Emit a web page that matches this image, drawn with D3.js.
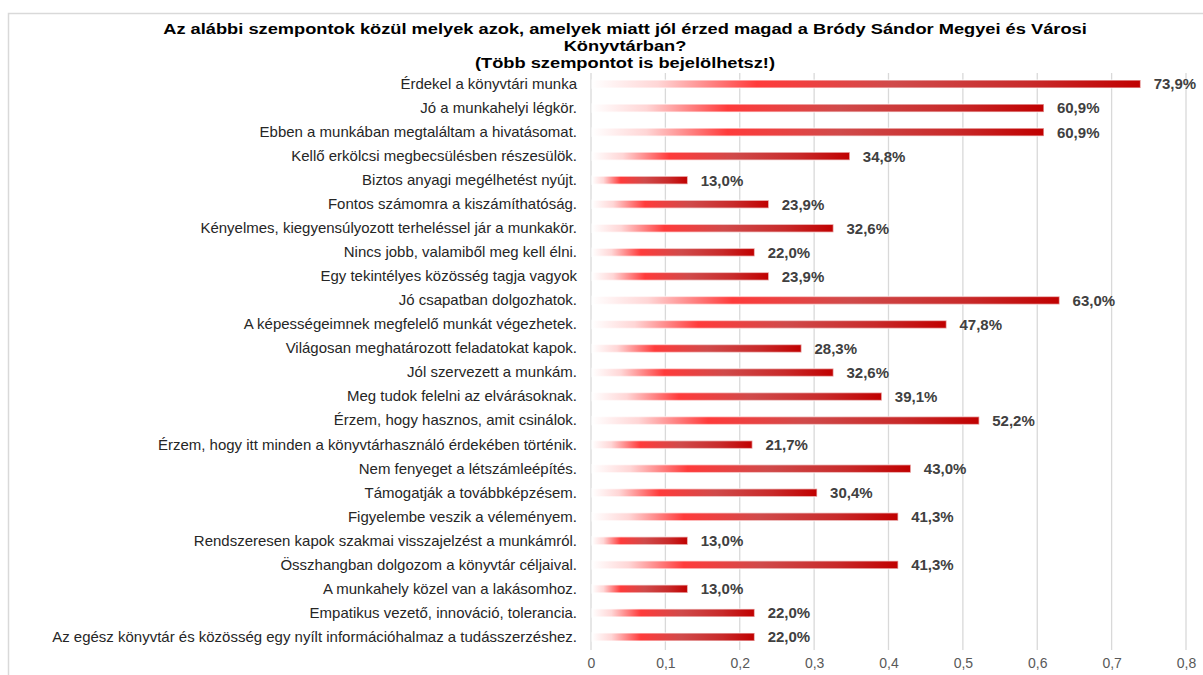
<!DOCTYPE html>
<html>
<head>
<meta charset="utf-8">
<script src="https://cdn.jsdelivr.net/npm/d3@7"></script>
<style>
  html, body { margin: 0; padding: 0; background: #fff; }
  svg { display: block; }
  text { font-family: "Liberation Sans", Arial, sans-serif; }
</style>
</head>
<body>
<svg id="chart" width="1203" height="675"></svg>
<script>
// Survey answers: share of respondents who ticked each reason
const categories = [
  "Érdekel a könyvtári munka",
  "Jó a munkahelyi légkör.",
  "Ebben a munkában megtaláltam a hivatásomat.",
  "Kellő erkölcsi megbecsülésben részesülök.",
  "Biztos anyagi megélhetést nyújt.",
  "Fontos számomra a kiszámíthatóság.",
  "Kényelmes, kiegyensúlyozott terheléssel jár a munkakör.",
  "Nincs jobb, valamiből meg kell élni.",
  "Egy tekintélyes közösség tagja vagyok",
  "Jó csapatban dolgozhatok.",
  "A képességeimnek megfelelő munkát végezhetek.",
  "Világosan meghatározott feladatokat kapok.",
  "Jól szervezett a munkám.",
  "Meg tudok felelni az elvárásoknak.",
  "Érzem, hogy hasznos, amit csinálok.",
  "Érzem, hogy itt minden a könyvtárhasználó érdekében történik.",
  "Nem fenyeget a létszámleépítés.",
  "Támogatják a továbbképzésem.",
  "Figyelembe veszik a véleményem.",
  "Rendszeresen kapok szakmai visszajelzést a munkámról.",
  "Összhangban dolgozom a könyvtár céljaival.",
  "A munkahely közel van a lakásomhoz.",
  "Empatikus vezető, innováció, tolerancia.",
  "Az egész könyvtár és közösség egy nyílt információhalmaz a tudásszerzéshez."
];
const values = [
  0.739, 0.609, 0.609, 0.348, 0.130, 0.239, 0.326, 0.220, 0.239, 0.630,
  0.478, 0.283, 0.326, 0.391, 0.522, 0.217, 0.430, 0.304, 0.413, 0.130,
  0.413, 0.130, 0.220, 0.220
];
const tickValues = [0, 0.1, 0.2, 0.3, 0.4, 0.5, 0.6, 0.7, 0.8];
const titleLines = [
  "Az alábbi szempontok közül melyek azok, amelyek miatt jól érzed magad a Bródy Sándor Megyei és Városi",
  "Könyvtárban?",
  "(Több szempontot is bejelölhetsz!)"
];

const svg = d3.select("#chart");
const W = 1203, H = 675;
const margin = { left: 591, top: 72 };

// outer frame (top and left edges visible)
svg.append("rect")
  .attr("x", 8.5).attr("y", 13.5)
  .attr("width", W + 10).attr("height", H + 10)
  .attr("fill", "none").attr("stroke", "#d9d9d9").attr("stroke-width", 1.5);

const x = d3.scaleLinear().domain([0, 0.8]).range([margin.left, 1186]);
const y = d3.scaleBand().domain(categories).range([margin.top, 649]);

// bar fill: white fading into bright red, then deepening to dark red
const defs = svg.append("defs");
const grad = defs.append("linearGradient").attr("id", "barGrad")
  .attr("x1", "0%").attr("x2", "100%").attr("y1", "0%").attr("y2", "0%");
[
  [0.00, "#ffffff"],
  [0.12, "#ffd6d6"],
  [0.30, "#ff3b3b"],
  [0.55, "#d04a4a"],
  [0.80, "#c82a2a"],
  [1.00, "#c00000"]
].forEach(([o, c]) => grad.append("stop").attr("offset", o).attr("stop-color", c));

// vertical gridlines
svg.append("g").selectAll("line").data(tickValues).join("line")
  .attr("x1", d => x(d)).attr("x2", d => x(d))
  .attr("y1", 73).attr("y2", 650)
  .attr("stroke", "#d9d9d9").attr("stroke-width", 1.3);

// x axis labels
const xAxis = d3.axisBottom(x).tickValues(tickValues).tickSize(0).tickPadding(0)
  .tickFormat(d => d3.format(".1~f")(d).replace(".", ","));
const gx = svg.append("g").attr("transform", "translate(0,655)").call(xAxis);
gx.select(".domain").remove();
gx.selectAll("text")
  .attr("font-family", "Liberation Sans, Arial, sans-serif")
  .attr("font-size", 14).attr("fill", "#595959").attr("dy", "0.9em");

const barH = 8;
const rows = svg.append("g").selectAll("g").data(categories).join("g")
  .attr("transform", d => `translate(0,${y(d) + y.bandwidth() / 2})`);

rows.append("rect")
  .attr("x", x(0) + 1)
  .attr("y", -barH / 2)
  .attr("width", (d, i) => x(values[i]) - x(0) - 1)
  .attr("height", barH)
  .attr("fill", "url(#barGrad)")
  .attr("stroke", "#ffffff").attr("stroke-opacity", 0.55).attr("stroke-width", 1.5);

// category labels, widened slightly so the longest one spans from x=52 to 577
const catG = svg.append("g");
const catText = catG.selectAll("text").data(categories).join("text")
  .attr("x", 0).attr("y", d => y(d) + y.bandwidth() / 2).attr("dy", "0.35em")
  .attr("text-anchor", "end")
  .attr("font-size", 14).attr("fill", "#262626")
  .text(d => d);
const maxCat = d3.max(catText.nodes(), n => n.getComputedTextLength());
const catScale = 525 / maxCat;
catText.attr("transform", d => `translate(577,0) scale(${catScale},1)`)
  .attr("transform-origin", null);
// keep the vertical position unaffected by the horizontal scale
catText.attr("transform", d => `translate(577,0) scale(${catScale},1)`);

// value labels
rows.append("text")
  .attr("x", (d, i) => x(values[i]) + 13).attr("y", 0).attr("dy", "0.36em")
  .attr("font-size", 15).attr("font-weight", "bold").attr("fill", "#404040")
  .text((d, i) => d3.format(".1f")(values[i] * 100).replace(".", ",") + "%");

// title, widened so the first line spans 924px
const titleText = svg.append("g").selectAll("text").data(titleLines).join("text")
  .attr("x", 0).attr("y", (d, i) => 34 + i * 17)
  .attr("text-anchor", "middle")
  .attr("font-size", 15.5).attr("font-weight", "bold").attr("fill", "#000")
  .text(d => d);
const tScale = 924 / titleText.nodes()[0].getComputedTextLength();
titleText.attr("transform", `translate(625,0) scale(${tScale},1)`);
</script>
</body>
</html>
